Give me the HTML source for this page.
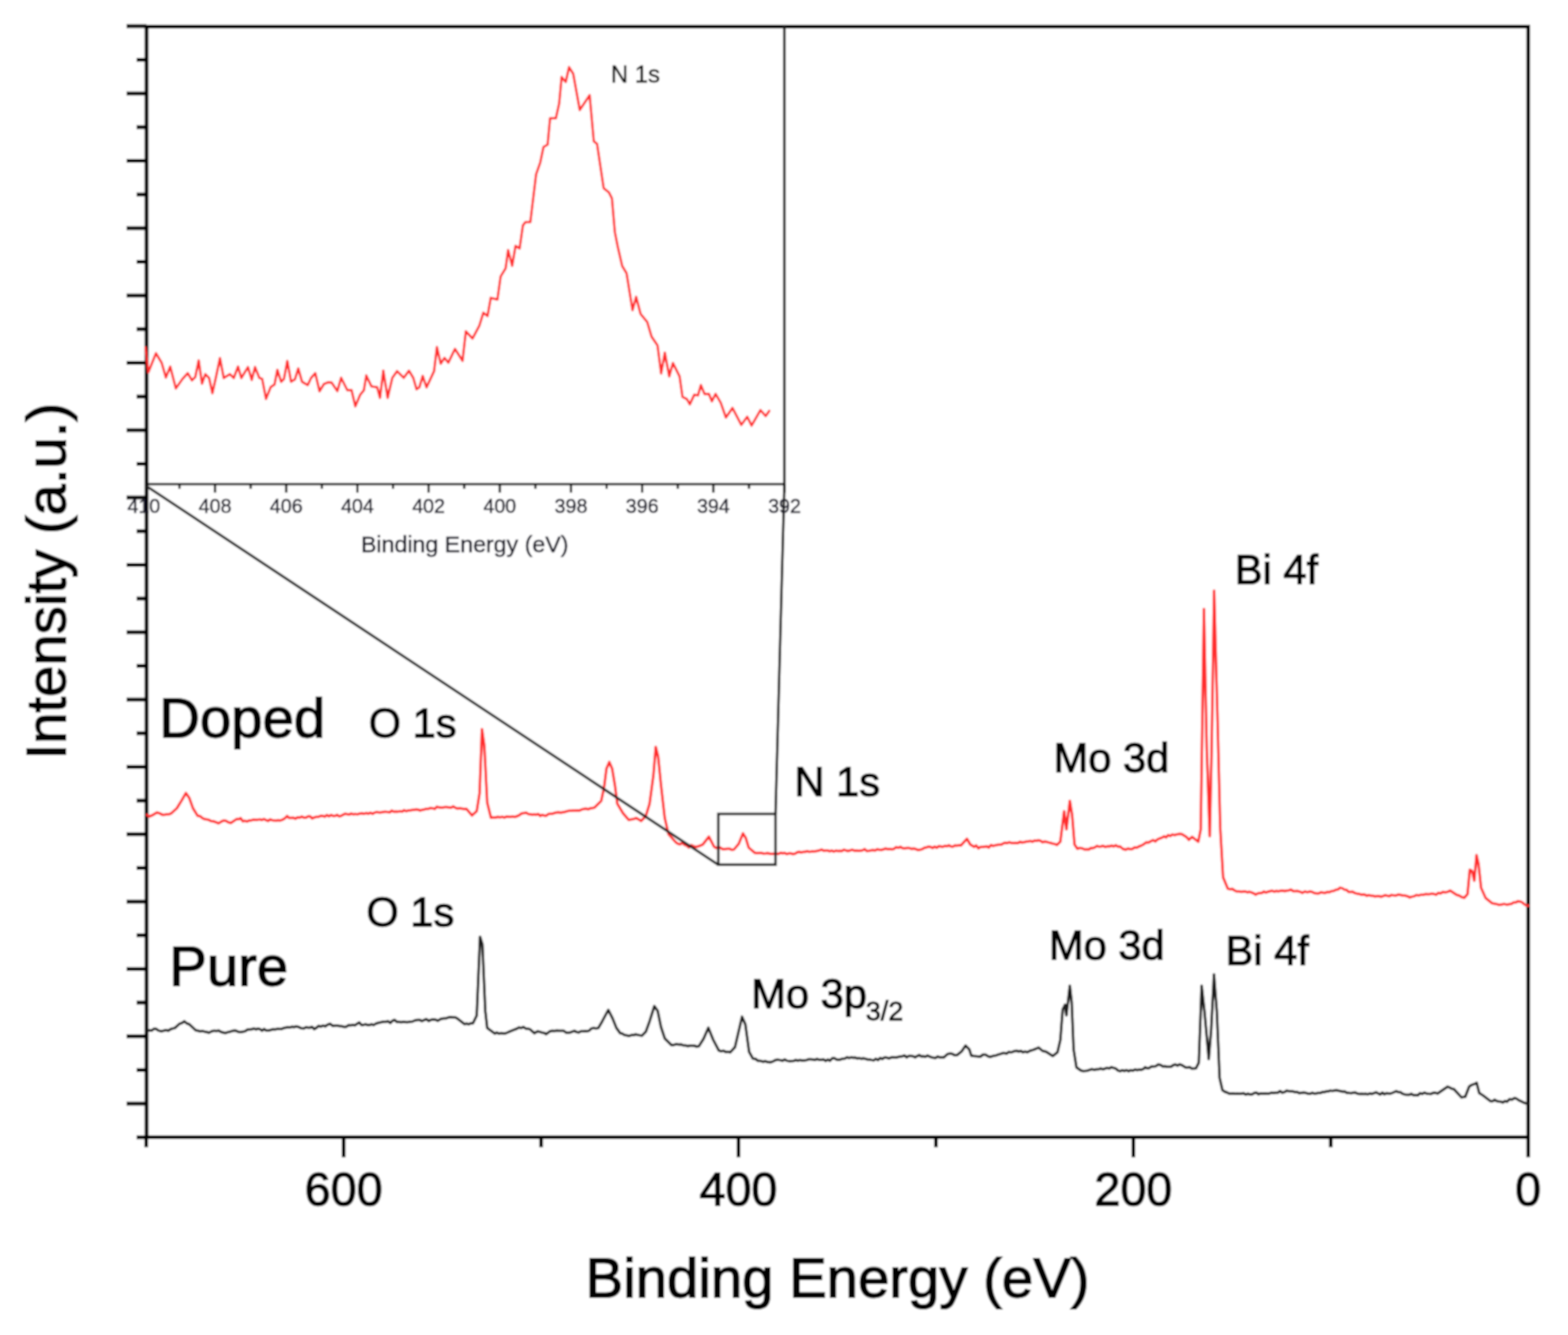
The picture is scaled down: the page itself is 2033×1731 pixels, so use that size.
<!DOCTYPE html>
<html><head><meta charset="utf-8"><title>XPS survey spectra: Doped vs Pure</title>
<style>html,body{margin:0;padding:0;background:#fff;overflow:hidden}svg{display:block}</style>
</head><body>
<svg width="2033" height="1731" viewBox="0 0 2033 1731">
<rect width="2033" height="1731" fill="#fff"/>
<defs><filter id="soft" x="0" y="0" width="100%" height="100%"><feGaussianBlur stdDeviation="1"/></filter></defs>
<g filter="url(#soft)">
<rect width="2033" height="1731" fill="#fff"/>
<rect x="190.0" y="34.5" width="1791.4" height="1440.0" fill="none" stroke="#000" stroke-width="5" stroke-linecap="square"/>
<g stroke="#000" stroke-width="5" fill="none">
<line x1="164.0" y1="33.9" x2="190.0" y2="33.9"/>
<line x1="177.0" y1="77.6" x2="190.0" y2="77.6"/>
<line x1="164.0" y1="121.2" x2="190.0" y2="121.2"/>
<line x1="177.0" y1="164.9" x2="190.0" y2="164.9"/>
<line x1="164.0" y1="208.5" x2="190.0" y2="208.5"/>
<line x1="177.0" y1="252.2" x2="190.0" y2="252.2"/>
<line x1="164.0" y1="295.9" x2="190.0" y2="295.9"/>
<line x1="177.0" y1="339.5" x2="190.0" y2="339.5"/>
<line x1="164.0" y1="383.2" x2="190.0" y2="383.2"/>
<line x1="177.0" y1="426.8" x2="190.0" y2="426.8"/>
<line x1="164.0" y1="470.5" x2="190.0" y2="470.5"/>
<line x1="177.0" y1="514.2" x2="190.0" y2="514.2"/>
<line x1="164.0" y1="557.8" x2="190.0" y2="557.8"/>
<line x1="177.0" y1="601.5" x2="190.0" y2="601.5"/>
<line x1="164.0" y1="645.1" x2="190.0" y2="645.1"/>
<line x1="177.0" y1="688.8" x2="190.0" y2="688.8"/>
<line x1="164.0" y1="732.5" x2="190.0" y2="732.5"/>
<line x1="177.0" y1="776.1" x2="190.0" y2="776.1"/>
<line x1="164.0" y1="819.8" x2="190.0" y2="819.8"/>
<line x1="177.0" y1="863.4" x2="190.0" y2="863.4"/>
<line x1="164.0" y1="907.1" x2="190.0" y2="907.1"/>
<line x1="177.0" y1="950.8" x2="190.0" y2="950.8"/>
<line x1="164.0" y1="994.4" x2="190.0" y2="994.4"/>
<line x1="177.0" y1="1038.1" x2="190.0" y2="1038.1"/>
<line x1="164.0" y1="1081.7" x2="190.0" y2="1081.7"/>
<line x1="177.0" y1="1125.4" x2="190.0" y2="1125.4"/>
<line x1="164.0" y1="1169.1" x2="190.0" y2="1169.1"/>
<line x1="177.0" y1="1212.7" x2="190.0" y2="1212.7"/>
<line x1="164.0" y1="1256.4" x2="190.0" y2="1256.4"/>
<line x1="177.0" y1="1300.0" x2="190.0" y2="1300.0"/>
<line x1="164.0" y1="1343.7" x2="190.0" y2="1343.7"/>
<line x1="177.0" y1="1387.4" x2="190.0" y2="1387.4"/>
<line x1="164.0" y1="1431.0" x2="190.0" y2="1431.0"/>
<line x1="177.0" y1="1474.7" x2="190.0" y2="1474.7"/>
<line x1="1981.4" y1="1474.5" x2="1981.4" y2="1500.5"/>
<line x1="1725.4" y1="1474.5" x2="1725.4" y2="1487.5"/>
<line x1="1469.5" y1="1474.5" x2="1469.5" y2="1500.5"/>
<line x1="1213.5" y1="1474.5" x2="1213.5" y2="1487.5"/>
<line x1="957.5" y1="1474.5" x2="957.5" y2="1500.5"/>
<line x1="701.6" y1="1474.5" x2="701.6" y2="1487.5"/>
<line x1="445.6" y1="1474.5" x2="445.6" y2="1500.5"/>
<line x1="189.6" y1="1474.5" x2="189.6" y2="1487.5"/>
</g>
<polyline points="191.1,1336.6 193.9,1336.0 196.6,1336.3 199.4,1334.0 202.2,1334.1 205.9,1336.4 209.6,1337.2 212.5,1336.3 215.3,1335.6 218.2,1336.5 221.1,1334.5 223.9,1333.6 226.8,1332.9 233.0,1327.3 236.1,1326.3 239.1,1324.3 242.2,1327.0 245.3,1328.0 253.9,1336.0 256.8,1336.5 259.6,1337.4 262.5,1336.8 265.4,1337.7 268.2,1338.2 271.1,1339.0 274.4,1337.3 277.6,1336.4 280.9,1336.8 283.7,1336.3 286.4,1338.0 289.2,1338.8 292.0,1339.6 295.3,1338.4 298.5,1337.7 301.8,1336.6 305.1,1336.2 308.4,1337.7 311.7,1338.4 314.8,1337.7 317.9,1337.1 320.9,1335.0 324.0,1334.7 326.6,1334.6 329.2,1333.5 331.8,1334.8 334.4,1333.7 337.1,1334.4 339.7,1336.5 342.3,1334.2 344.9,1336.0 347.8,1336.2 350.8,1335.5 353.7,1334.6 356.7,1334.8 359.6,1334.1 362.3,1334.2 364.9,1334.3 367.6,1333.0 370.3,1332.5 372.9,1332.1 375.6,1332.3 378.4,1331.3 381.1,1331.8 383.9,1331.0 386.7,1331.4 390.4,1333.3 394.0,1333.5 396.7,1332.0 399.3,1332.5 402.0,1332.5 404.7,1331.5 407.3,1334.4 410.0,1332.9 413.0,1330.2 415.9,1331.0 418.9,1329.9 421.8,1330.7 424.8,1328.6 428.1,1327.5 431.3,1330.2 434.6,1329.8 437.5,1329.7 440.3,1330.6 443.1,1330.6 446.0,1331.6 448.9,1331.4 451.7,1329.3 454.6,1329.4 457.5,1329.0 460.3,1329.4 463.2,1327.3 465.9,1325.8 468.5,1329.0 471.2,1328.9 473.9,1328.1 476.5,1329.0 479.2,1329.1 481.8,1328.1 484.5,1329.1 487.1,1327.4 489.7,1326.5 492.3,1325.9 495.0,1325.3 497.6,1324.8 500.4,1324.7 503.2,1324.2 506.0,1326.5 508.8,1323.6 511.6,1322.4 514.4,1325.0 517.2,1325.1 520.0,1325.5 522.8,1325.1 525.6,1325.2 528.4,1325.4 531.7,1324.8 534.9,1324.5 538.2,1323.0 541.1,1322.5 544.1,1322.4 547.0,1324.0 549.9,1322.7 552.8,1321.4 555.8,1323.8 558.7,1322.4 561.6,1321.7 564.7,1322.2 567.7,1323.6 571.4,1321.2 575.1,1320.5 578.2,1320.4 581.2,1319.3 584.3,1318.8 587.4,1319.3 590.5,1319.2 593.6,1321.1 602.2,1327.9 605.0,1327.2 607.7,1328.1 610.5,1326.7 613.2,1326.7 618.1,1316.8 622.4,1214.8 625.5,1224.6 629.2,1310.7 631.7,1332.8 641.5,1340.2 644.2,1338.9 646.8,1340.3 649.5,1339.6 652.2,1340.0 654.8,1340.1 657.5,1339.0 660.6,1337.6 663.6,1336.4 666.7,1335.2 669.8,1334.0 672.8,1332.3 675.7,1332.9 678.7,1331.6 681.6,1333.7 684.4,1333.8 687.3,1334.7 692.8,1339.6 697.1,1337.2 699.9,1337.9 702.7,1338.9 705.4,1339.4 708.2,1340.9 713.1,1337.2 716.1,1336.5 719.0,1336.7 722.0,1336.2 724.9,1336.4 727.9,1336.6 731.0,1336.6 734.0,1339.0 736.7,1339.1 739.4,1338.7 742.1,1337.6 744.8,1336.6 747.5,1338.1 750.3,1338.7 753.0,1337.2 755.7,1337.2 758.4,1337.0 761.1,1337.2 764.0,1336.3 766.8,1333.6 769.7,1332.9 772.8,1333.6 775.8,1332.9 780.8,1324.3 788.7,1309.5 794.3,1320.6 799.2,1332.9 804.1,1339.6 806.9,1340.3 809.7,1342.1 812.4,1342.4 815.2,1343.3 818.9,1342.1 821.6,1342.0 824.3,1341.2 827.0,1341.9 829.7,1342.4 832.4,1342.7 837.3,1337.8 842.2,1324.3 848.4,1304.6 852.7,1310.7 857.0,1331.6 861.9,1346.4 870.5,1355.0 873.6,1354.9 876.7,1353.8 879.8,1354.4 882.9,1354.2 885.9,1355.5 889.0,1355.6 891.9,1356.5 894.7,1355.8 897.5,1355.8 900.4,1356.0 903.2,1357.0 906.1,1356.6 912.3,1346.7 918.4,1332.6 924.6,1348.0 932.0,1362.1 934.9,1363.0 937.9,1362.4 940.8,1363.9 943.8,1363.7 946.7,1364.6 952.9,1357.8 957.8,1336.9 962.1,1318.4 966.4,1328.3 971.3,1363.9 976.2,1372.6 979.5,1373.0 982.8,1375.5 986.1,1375.6 989.2,1376.7 992.2,1376.0 995.3,1377.1 998.4,1377.5 1002.1,1376.3 1005.8,1374.4 1008.7,1374.1 1011.6,1374.6 1014.5,1375.4 1017.4,1373.7 1020.4,1375.4 1023.3,1375.9 1026.2,1375.8 1029.1,1375.6 1031.8,1374.4 1034.6,1375.4 1037.3,1374.4 1040.0,1375.2 1042.8,1375.1 1045.5,1374.6 1048.2,1373.6 1051.0,1373.6 1053.7,1373.8 1056.5,1374.4 1059.3,1373.1 1062.1,1374.2 1064.9,1374.2 1067.7,1373.6 1070.5,1375.6 1073.3,1373.9 1076.1,1375.4 1078.9,1372.3 1081.7,1372.1 1084.5,1373.8 1087.2,1374.3 1089.9,1373.7 1092.7,1372.7 1095.4,1372.6 1098.1,1371.0 1100.8,1371.7 1103.6,1371.1 1106.3,1371.4 1109.0,1371.3 1111.6,1372.4 1114.2,1372.1 1116.9,1372.7 1119.5,1372.3 1122.1,1372.9 1124.8,1373.7 1127.4,1373.8 1130.0,1374.4 1132.8,1374.9 1135.6,1372.9 1138.4,1374.5 1141.2,1371.9 1144.0,1373.0 1146.8,1371.2 1149.6,1371.3 1152.6,1372.4 1155.6,1371.1 1158.6,1371.1 1161.6,1371.2 1164.6,1370.5 1167.3,1369.9 1170.1,1369.5 1172.8,1368.6 1175.5,1370.9 1178.3,1369.3 1181.0,1369.3 1183.7,1369.5 1186.5,1370.9 1189.2,1369.3 1191.8,1368.1 1194.5,1369.8 1197.1,1369.4 1199.8,1370.3 1202.4,1368.6 1205.1,1369.8 1207.7,1370.9 1210.4,1371.6 1213.0,1371.7 1215.7,1370.0 1218.3,1370.9 1221.0,1370.9 1223.6,1371.1 1228.5,1366.8 1231.6,1366.1 1234.7,1366.4 1237.7,1368.3 1240.8,1368.1 1247.0,1363.1 1251.9,1355.8 1256.8,1360.7 1259.3,1368.7 1262.2,1369.3 1265.0,1369.4 1267.9,1369.9 1271.2,1370.0 1274.4,1367.5 1277.7,1367.4 1280.5,1369.3 1283.3,1370.5 1286.1,1369.7 1288.8,1368.8 1291.6,1368.4 1294.4,1367.4 1297.1,1366.6 1299.9,1365.6 1302.5,1365.4 1305.2,1366.2 1307.8,1364.0 1310.4,1364.6 1313.0,1363.8 1315.7,1362.7 1318.3,1362.5 1321.0,1363.5 1323.7,1362.6 1326.4,1364.5 1329.1,1363.4 1331.8,1364.4 1335.5,1362.5 1339.2,1361.3 1342.9,1360.0 1346.6,1358.2 1351.5,1362.5 1356.4,1363.7 1364.9,1369.3 1371.1,1364.4 1374.8,1348.4 1377.8,1309.0 1380.9,1302.9 1382.7,1316.4 1387.1,1278.3 1389.5,1299.2 1392.0,1360.7 1395.7,1384.0 1401.8,1388.3 1404.6,1388.7 1407.4,1388.5 1410.2,1388.2 1413.1,1387.1 1415.9,1386.3 1418.7,1387.2 1421.5,1386.5 1424.3,1386.5 1427.0,1385.3 1429.8,1386.5 1432.5,1385.7 1435.3,1384.6 1438.1,1385.4 1440.8,1383.8 1443.6,1384.6 1446.5,1385.4 1449.3,1387.8 1452.2,1389.0 1455.0,1387.7 1457.8,1388.7 1460.5,1387.5 1463.3,1388.9 1466.1,1387.6 1468.9,1388.2 1471.6,1386.7 1474.4,1387.7 1477.0,1386.8 1479.6,1387.2 1482.2,1386.2 1484.8,1383.9 1487.5,1385.3 1490.1,1384.7 1492.7,1383.1 1495.3,1382.8 1498.3,1382.6 1501.4,1380.3 1504.5,1380.8 1507.6,1382.8 1510.3,1382.5 1513.1,1383.2 1515.8,1383.2 1518.5,1383.0 1521.3,1381.0 1524.0,1380.3 1526.7,1381.7 1529.5,1380.1 1532.2,1381.0 1537.1,1384.0 1539.8,1384.2 1542.5,1383.6 1545.2,1385.6 1547.9,1385.6 1550.6,1385.3 1554.3,1377.9 1558.0,1278.3 1561.7,1311.5 1567.2,1373.0 1570.3,1336.1 1574.0,1263.5 1577.7,1311.5 1581.3,1397.6 1585.0,1413.6 1587.9,1415.5 1590.7,1416.5 1593.6,1417.9 1596.3,1417.9 1598.9,1417.7 1601.6,1418.2 1604.3,1418.1 1606.9,1418.2 1609.6,1417.9 1612.4,1417.6 1615.1,1419.3 1617.9,1418.1 1620.6,1419.0 1623.4,1418.9 1626.2,1417.3 1628.9,1416.7 1631.7,1418.9 1634.5,1417.7 1637.2,1418.0 1640.0,1417.8 1642.7,1418.1 1645.5,1418.0 1648.3,1416.8 1651.2,1417.3 1654.0,1416.7 1656.8,1416.7 1659.7,1414.7 1662.5,1416.8 1665.3,1416.1 1668.1,1414.2 1671.0,1414.7 1673.8,1414.9 1676.6,1415.3 1679.3,1416.1 1682.1,1416.1 1684.8,1417.5 1687.6,1416.9 1690.4,1416.5 1693.1,1417.1 1695.9,1418.0 1698.5,1418.3 1701.2,1417.0 1703.8,1417.9 1706.4,1417.8 1709.0,1417.2 1711.7,1417.3 1714.3,1416.1 1716.9,1416.0 1719.5,1415.3 1722.2,1415.1 1724.8,1414.1 1727.4,1414.6 1730.0,1414.0 1732.7,1413.5 1735.3,1414.3 1738.0,1414.8 1740.8,1415.5 1743.5,1415.3 1746.2,1417.0 1749.0,1417.1 1751.7,1417.6 1754.4,1416.7 1757.2,1416.5 1759.9,1418.0 1762.6,1418.4 1765.3,1418.2 1768.0,1418.5 1770.7,1418.3 1773.3,1418.9 1776.0,1417.8 1778.7,1418.5 1781.4,1417.3 1784.1,1416.3 1786.8,1417.7 1789.5,1419.1 1792.2,1416.7 1794.8,1418.8 1797.5,1417.5 1800.2,1417.7 1802.9,1418.0 1806.6,1416.5 1810.3,1414.9 1813.0,1416.1 1815.8,1416.3 1818.5,1418.2 1821.3,1419.2 1824.1,1419.4 1827.0,1419.6 1829.8,1418.3 1832.6,1419.9 1835.4,1420.0 1838.3,1420.3 1841.1,1417.4 1843.9,1418.4 1846.8,1416.7 1849.6,1418.0 1852.4,1418.3 1855.3,1418.4 1858.1,1417.1 1861.0,1416.8 1863.8,1418.0 1876.9,1409.0 1879.6,1410.2 1882.4,1411.6 1885.1,1412.2 1894.9,1422.9 1899.8,1422.0 1904.8,1409.0 1908.0,1406.8 1911.3,1405.7 1914.6,1404.1 1917.9,1417.2 1922.8,1420.4 1932.6,1427.8 1935.3,1427.7 1937.9,1426.1 1940.6,1427.6 1943.2,1428.3 1945.9,1428.4 1948.6,1429.6 1951.2,1427.6 1953.9,1428.6 1957.2,1425.3 1960.4,1425.7 1963.7,1423.7 1966.4,1424.6 1969.2,1426.6 1971.9,1427.8 1974.9,1429.4 1977.9,1430.5 1980.9,1431.1" fill="none" stroke="#1e1e1e" stroke-width="3.5" stroke-linejoin="round" stroke-linecap="round"/>
<polyline points="190.5,1056.6 193.9,1058.7 197.3,1057.2 203.4,1053.5 207.1,1054.6 210.8,1056.6 213.6,1056.4 216.4,1055.8 219.1,1055.8 221.9,1054.7 229.3,1048.0 235.4,1038.1 241.0,1028.3 245.3,1034.4 250.2,1048.0 256.3,1057.8 259.2,1058.2 262.0,1060.4 264.9,1062.1 267.8,1062.4 270.6,1063.0 273.5,1064.6 276.8,1065.0 280.1,1066.2 283.4,1067.6 286.4,1065.6 289.5,1064.0 292.8,1064.3 296.1,1066.3 299.4,1067.0 306.7,1062.1 309.4,1062.3 312.1,1060.9 314.9,1064.9 317.6,1064.3 320.3,1065.2 323.2,1063.8 326.0,1063.7 328.9,1062.7 331.6,1063.0 334.2,1062.9 336.9,1062.4 339.6,1063.2 342.2,1062.0 344.9,1063.3 347.5,1064.5 350.2,1062.5 352.8,1063.4 355.4,1063.7 358.0,1063.9 360.7,1063.6 363.3,1063.9 366.4,1062.8 369.5,1060.9 372.2,1058.1 374.9,1060.6 377.7,1060.5 380.4,1060.2 383.1,1061.6 385.8,1059.7 388.6,1060.3 391.3,1058.7 394.0,1060.3 396.7,1060.2 399.4,1058.6 402.1,1058.5 404.8,1061.3 407.5,1059.9 410.2,1059.2 412.9,1059.2 415.7,1057.8 418.4,1057.9 421.1,1058.9 423.8,1056.8 426.5,1058.4 429.2,1056.7 431.9,1058.0 434.6,1057.8 437.2,1056.6 439.8,1058.6 442.4,1057.8 445.0,1056.3 447.6,1055.1 450.3,1055.7 452.9,1056.0 455.5,1055.0 458.1,1055.8 460.7,1055.4 463.5,1055.9 466.3,1054.9 469.1,1054.5 471.9,1055.2 474.7,1054.3 477.5,1055.0 480.3,1053.9 483.1,1055.2 485.9,1053.6 488.7,1052.9 491.5,1053.6 494.2,1053.4 497.0,1052.8 499.7,1052.4 502.4,1052.9 505.2,1053.4 507.9,1051.1 510.6,1052.5 513.4,1052.3 516.1,1052.4 518.7,1051.9 521.4,1052.4 524.0,1050.5 526.6,1051.8 529.3,1050.8 531.9,1050.8 534.5,1050.3 537.2,1049.9 539.8,1049.5 542.5,1050.0 545.1,1051.0 547.7,1049.9 550.4,1049.5 553.0,1048.7 555.7,1048.7 558.3,1047.6 561.0,1048.1 563.7,1048.9 566.3,1046.1 569.0,1046.8 571.6,1047.2 574.3,1047.2 576.9,1046.4 579.5,1046.6 582.1,1046.9 584.8,1047.4 587.4,1045.6 590.3,1047.3 593.1,1048.4 596.0,1048.0 598.9,1048.4 601.7,1049.0 604.6,1048.7 612.0,1057.3 618.1,1051.7 621.8,1028.4 624.9,945.4 628.0,966.9 631.7,1040.7 636.6,1060.3 639.5,1060.1 642.5,1060.0 645.4,1059.2 648.4,1059.8 651.3,1059.1 653.9,1060.1 656.6,1058.8 659.2,1059.0 661.9,1059.2 664.5,1058.6 667.2,1059.3 669.8,1058.5 673.1,1057.2 676.3,1054.7 679.6,1054.2 682.2,1053.7 684.8,1055.4 687.4,1055.7 690.0,1056.4 692.7,1056.1 695.3,1056.4 697.9,1055.4 700.5,1057.9 703.1,1056.5 705.7,1057.6 708.3,1057.7 711.0,1055.5 713.6,1055.2 716.3,1055.2 718.9,1054.2 721.6,1053.4 724.2,1053.3 726.9,1053.7 729.7,1053.2 732.4,1052.7 735.1,1051.9 737.9,1051.3 740.6,1051.3 743.3,1050.9 746.1,1051.0 748.8,1050.8 751.6,1050.9 754.3,1049.7 757.1,1048.8 759.8,1048.5 762.6,1049.4 765.4,1048.1 768.1,1047.7 770.9,1047.1 779.5,1038.5 783.2,1021.3 786.3,996.7 790.0,988.1 793.7,996.7 797.4,1018.9 800.4,1042.2 807.8,1054.5 815.2,1063.1 818.5,1062.5 821.7,1061.9 825.0,1060.7 828.1,1062.6 831.2,1064.4 837.3,1058.2 842.2,1042.2 847.2,1005.3 850.2,968.4 853.3,980.7 857.0,1017.6 861.9,1060.7 866.8,1081.6 876.7,1092.6 879.4,1094.2 882.1,1094.7 884.8,1092.7 887.5,1095.4 890.2,1096.3 893.2,1098.8 896.1,1095.8 899.1,1097.2 902.0,1098.1 905.0,1097.6 908.0,1096.3 911.1,1095.1 919.1,1084.9 925.8,1097.8 928.6,1099.6 931.3,1098.4 934.1,1099.2 936.9,1100.9 939.8,1100.9 942.8,1100.6 945.7,1100.4 948.7,1101.8 951.6,1101.5 957.8,1094.1 963.3,1080.6 967.0,1086.7 970.7,1099.0 978.7,1105.8 981.5,1106.2 984.3,1106.1 987.1,1106.0 990.0,1106.7 992.8,1106.6 995.6,1106.3 998.4,1107.0 1001.1,1107.3 1003.9,1107.1 1006.6,1106.9 1009.3,1107.3 1012.1,1105.8 1014.8,1106.5 1017.5,1106.1 1020.3,1107.5 1023.0,1106.4 1025.6,1106.6 1028.3,1107.5 1030.9,1106.9 1033.5,1105.2 1036.2,1104.5 1038.8,1105.4 1041.5,1104.6 1044.1,1104.5 1046.7,1103.6 1049.4,1104.6 1052.0,1104.1 1054.6,1104.0 1057.3,1103.8 1059.9,1103.3 1062.5,1102.6 1065.2,1101.5 1067.8,1103.0 1070.4,1102.7 1073.1,1102.7 1075.7,1103.8 1078.3,1102.9 1081.0,1104.1 1083.6,1103.1 1086.3,1103.4 1088.9,1103.2 1091.5,1103.4 1094.2,1101.8 1096.8,1102.7 1099.5,1103.5 1102.2,1102.7 1104.9,1101.8 1107.6,1102.9 1110.3,1102.7 1113.0,1103.3 1115.7,1102.9 1118.4,1102.5 1121.1,1101.0 1123.8,1103.4 1126.5,1103.2 1129.2,1102.6 1131.9,1102.3 1134.6,1102.8 1137.3,1101.2 1140.0,1101.8 1142.7,1102.0 1145.5,1101.3 1148.2,1100.2 1150.9,1101.0 1153.7,1100.7 1156.4,1101.4 1159.1,1100.6 1161.9,1098.4 1164.6,1099.3 1167.4,1098.1 1170.3,1099.7 1173.1,1099.9 1175.9,1099.6 1178.8,1099.5 1181.6,1100.7 1184.4,1100.2 1187.2,1100.8 1190.1,1102.2 1192.9,1101.8 1195.8,1100.9 1198.6,1099.2 1201.5,1098.7 1204.1,1097.7 1206.7,1098.3 1209.3,1099.6 1211.9,1097.7 1214.5,1099.3 1217.1,1097.2 1219.7,1097.5 1222.3,1098.0 1225.0,1096.8 1227.6,1097.3 1230.2,1096.1 1232.8,1097.4 1235.4,1097.7 1238.0,1096.2 1240.6,1096.6 1243.2,1096.0 1245.8,1096.2 1253.7,1087.6 1258.0,1095.0 1263.0,1098.1 1265.7,1096.3 1268.5,1099.9 1271.2,1098.2 1273.9,1098.2 1276.7,1097.7 1279.4,1097.4 1282.1,1098.9 1284.9,1095.7 1287.6,1096.9 1290.2,1096.1 1292.9,1095.5 1295.5,1095.2 1298.1,1095.3 1300.7,1093.7 1303.4,1092.7 1306.0,1093.2 1308.7,1092.1 1311.5,1093.1 1314.2,1093.3 1316.9,1093.0 1319.7,1093.3 1322.4,1091.5 1325.1,1092.5 1327.9,1092.0 1330.6,1091.3 1333.2,1091.0 1335.9,1090.4 1338.5,1091.4 1341.1,1090.1 1343.7,1090.2 1346.4,1089.5 1349.0,1090.1 1351.6,1092.0 1354.3,1091.3 1356.9,1091.6 1359.6,1092.4 1362.2,1093.0 1364.9,1093.9 1367.5,1094.4 1370.5,1095.6 1374.8,1091.3 1379.7,1052.0 1382.7,1075.3 1387.1,1038.4 1390.1,1056.9 1393.2,1095.0 1396.9,1100.5 1400.0,1099.4 1403.1,1100.0 1406.1,1101.4 1409.2,1101.2 1411.8,1101.5 1414.5,1099.4 1417.1,1099.7 1419.7,1098.7 1422.3,1096.8 1425.0,1097.8 1427.6,1097.5 1430.3,1096.7 1433.1,1098.2 1435.8,1097.3 1438.5,1097.5 1441.3,1096.4 1444.0,1097.6 1446.7,1096.0 1449.5,1097.7 1452.2,1097.5 1455.9,1100.7 1459.6,1101.8 1462.5,1100.2 1465.3,1101.0 1468.2,1100.7 1471.1,1098.8 1473.9,1099.1 1476.8,1097.5 1479.9,1096.3 1482.9,1094.7 1486.0,1092.3 1489.1,1092.6 1492.1,1090.7 1495.0,1089.2 1498.0,1091.0 1500.9,1088.3 1503.9,1087.0 1506.6,1086.1 1509.2,1084.4 1511.9,1085.8 1514.6,1082.9 1517.2,1084.0 1519.9,1082.1 1523.0,1082.8 1526.1,1081.9 1529.1,1081.2 1532.2,1081.5 1538.3,1085.2 1541.4,1088.9 1545.7,1085.2 1553.6,1091.5 1556.8,1075.4 1561.0,789.7 1564.7,973.6 1568.5,1084.1 1570.9,973.6 1574.2,766.1 1578.4,923.9 1582.1,1072.9 1585.8,1137.5 1592.0,1152.4 1594.8,1152.9 1597.7,1152.5 1600.5,1154.5 1603.4,1155.8 1606.2,1155.7 1609.1,1156.4 1611.9,1156.1 1614.6,1155.9 1617.3,1157.0 1620.0,1156.3 1622.6,1157.1 1625.3,1158.3 1628.0,1160.0 1630.7,1158.4 1633.4,1158.1 1636.1,1157.8 1638.8,1156.1 1641.5,1157.3 1644.2,1156.2 1646.9,1155.5 1649.6,1155.1 1652.2,1156.1 1654.9,1155.3 1657.6,1155.8 1660.3,1154.9 1663.0,1154.7 1665.7,1155.5 1668.4,1154.7 1671.1,1154.4 1673.8,1153.5 1676.7,1155.5 1679.7,1155.4 1682.6,1155.3 1685.6,1156.3 1688.5,1157.8 1691.8,1156.0 1695.1,1156.9 1698.4,1156.0 1701.3,1156.5 1704.1,1158.0 1707.0,1158.4 1709.8,1158.6 1712.5,1157.0 1715.3,1157.4 1718.0,1157.8 1720.8,1156.5 1723.6,1156.8 1726.3,1155.5 1729.1,1155.3 1731.9,1153.7 1734.7,1153.3 1737.4,1151.1 1740.2,1151.6 1743.0,1153.4 1745.8,1153.7 1748.5,1156.4 1751.3,1156.6 1753.9,1156.3 1756.5,1157.9 1759.1,1158.7 1761.8,1158.9 1764.4,1160.0 1767.0,1159.7 1769.6,1160.1 1772.2,1161.5 1774.8,1160.6 1777.5,1161.4 1780.1,1161.4 1782.7,1162.4 1785.3,1162.1 1788.0,1162.0 1790.6,1162.7 1793.3,1161.9 1796.1,1160.7 1798.8,1161.6 1801.5,1161.9 1804.3,1160.4 1807.0,1160.9 1809.7,1161.3 1812.5,1160.0 1815.2,1160.3 1818.5,1161.0 1821.7,1161.2 1825.0,1162.1 1827.9,1163.7 1830.8,1162.6 1833.6,1162.1 1836.5,1160.4 1839.4,1161.1 1842.3,1160.2 1845.1,1160.3 1848.0,1159.3 1850.9,1159.4 1853.7,1159.4 1856.5,1158.6 1859.2,1159.2 1862.0,1160.2 1864.8,1157.7 1867.6,1158.6 1870.8,1156.6 1873.9,1157.1 1877.0,1156.4 1880.2,1154.8 1888.5,1160.3 1891.9,1161.2 1895.2,1163.2 1898.6,1164.0 1902.7,1159.4 1905.7,1127.7 1908.6,1129.3 1911.5,1141.9 1914.4,1108.8 1917.0,1120.1 1920.3,1151.1 1926.2,1164.4 1934.5,1171.1 1937.7,1171.8 1940.8,1172.4 1943.9,1173.4 1947.1,1172.8 1950.2,1172.1 1953.3,1172.9 1956.5,1172.4 1959.6,1172.0 1962.4,1170.3 1965.2,1170.1 1968.0,1168.6 1970.8,1168.9 1973.5,1170.0 1976.3,1172.4 1978.9,1174.1 1981.5,1174.2" fill="none" stroke="#ff2e2e" stroke-width="3.5" stroke-linejoin="round" stroke-linecap="round"/>
<polyline points="188.7,450.7 192.4,482.7 202.2,458.1 209.6,470.4 215.1,489.5 220.7,475.3 228.0,503.6 236.6,491.3 243.4,483.9 248.9,493.2 253.2,488.9 257.6,467.3 261.9,497.5 266.2,485.2 271.1,490.1 275.4,509.8 280.3,487.6 285.2,464.3 290.1,490.1 298.1,485.2 303.1,490.1 308.6,475.3 312.9,490.1 321.5,476.0 326.4,492.6 330.7,476.0 336.3,490.1 339.9,491.3 344.9,517.1 351.0,501.8 355.9,498.7 359.6,479.6 364.5,495.0 368.2,491.3 372.5,468.0 377.4,495.0 382.4,491.9 386.7,477.8 391.6,495.0 399.0,499.3 403.3,490.1 408.8,483.9 414.3,507.3 419.9,498.1 426.0,495.6 430.0,496.1 437.4,507.1 442.3,489.9 450.3,505.9 455.8,505.9 460.7,526.8 466.9,512.1 471.8,505.9 474.9,486.9 481.6,501.0 489.0,502.2 492.7,515.8 497.0,480.7 502.6,515.8 508.7,489.9 514.9,481.3 523.5,489.9 530.2,480.7 535.8,489.9 540.1,504.7 543.7,502.2 548.1,487.5 553.0,502.2 562.8,481.3 566.5,450.0 571.4,471.5 576.3,464.1 581.3,470.3 589.9,452.4 599.7,467.8 604.0,429.7 612.6,438.9 621.4,422.6 626.7,405.5 632.1,409.7 636.3,386.2 644.9,388.4 649.1,358.5 655.6,347.8 658.8,324.3 664.1,344.6 668.4,318.9 673.7,322.1 678.0,292.2 681.2,288.0 687.6,288.0 695.1,226.0 700.4,211.0 704.7,190.7 710.0,187.5 713.2,153.3 720.7,153.3 725.0,134.1 728.2,99.9 733.5,106.3 737.8,87.1 743.2,95.6 751.7,142.6 764.5,123.4 769.9,183.2 774.1,186.5 782.7,244.1 789.5,249.5 793.4,257.2 797.2,301.0 801.0,320.1 806.7,344.9 812.4,354.4 820.1,402.1 824.8,385.0 830.5,406.9 839.1,417.4 844.8,436.5 852.5,447.9 857.2,484.1 862.0,457.4 867.7,488.0 872.5,470.8 881.1,488.0 884.9,514.6 890.6,517.5 894.4,524.2 900.2,511.8 904.9,512.7 908.7,499.4 913.5,510.8 919.2,510.8 923.0,520.4 927.8,510.8 934.5,522.3 941.2,541.4 949.7,529.0 961.2,550.9 968.8,540.4 974.5,551.8 986.0,531.8 992.7,539.5 997.4,532.8" fill="none" stroke="#ff2e2e" stroke-width="3.2" stroke-linejoin="round" stroke-linecap="round"/>
<g fill="none" stroke="#222" stroke-width="3.4">
<rect x="931.4" y="1055.4" width="74.1" height="65.8"/>
<line x1="190" y1="630.3" x2="931" y2="1121.2"/>
<polyline points="1017,34 1017,628 1005.5,1055.4"/>
</g>
<g stroke="#111" stroke-width="3" fill="none">
<line x1="190" y1="627.7" x2="1017" y2="627.7"/>
<line x1="232.7" y1="627.7" x2="232.7" y2="633.7"/>
<line x1="278.8" y1="627.7" x2="278.8" y2="638.7"/>
<line x1="325.0" y1="627.7" x2="325.0" y2="633.7"/>
<line x1="371.1" y1="627.7" x2="371.1" y2="638.7"/>
<line x1="417.3" y1="627.7" x2="417.3" y2="633.7"/>
<line x1="463.4" y1="627.7" x2="463.4" y2="638.7"/>
<line x1="509.6" y1="627.7" x2="509.6" y2="633.7"/>
<line x1="555.7" y1="627.7" x2="555.7" y2="638.7"/>
<line x1="601.9" y1="627.7" x2="601.9" y2="633.7"/>
<line x1="648.0" y1="627.7" x2="648.0" y2="638.7"/>
<line x1="694.2" y1="627.7" x2="694.2" y2="633.7"/>
<line x1="740.3" y1="627.7" x2="740.3" y2="638.7"/>
<line x1="786.5" y1="627.7" x2="786.5" y2="633.7"/>
<line x1="832.6" y1="627.7" x2="832.6" y2="638.7"/>
<line x1="878.8" y1="627.7" x2="878.8" y2="633.7"/>
<line x1="924.9" y1="627.7" x2="924.9" y2="638.7"/>
<line x1="971.1" y1="627.7" x2="971.1" y2="633.7"/>
<line x1="1017.2" y1="627.7" x2="1017.2" y2="638.7"/>
</g>
<g font-family="'Liberation Sans', Arial, Helvetica, sans-serif" font-size="25.5" fill="#1c1c2a" stroke="#1c1c2a" stroke-width="0.6" text-anchor="middle">
<text x="186.5" y="664.6">410</text>
<text x="278.8" y="664.6">408</text>
<text x="371.1" y="664.6">406</text>
<text x="463.4" y="664.6">404</text>
<text x="555.7" y="664.6">402</text>
<text x="648.0" y="664.6">400</text>
<text x="740.3" y="664.6">398</text>
<text x="832.6" y="664.6">396</text>
<text x="924.9" y="664.6">394</text>
<text x="1017.2" y="664.6">392</text>
</g>
<text x="468" y="715.6" font-family="'Liberation Sans', Arial, Helvetica, sans-serif" font-size="29" fill="#1c1c2a" stroke="#1c1c2a" stroke-width="0.6" textLength="269" lengthAdjust="spacingAndGlyphs">Binding Energy (eV)</text>
<text x="792" y="107.3" font-family="'Liberation Sans', Arial, Helvetica, sans-serif" font-size="31" fill="#111" stroke="#111" stroke-width="0.6">N 1s</text>
<g font-family="'Liberation Sans', Arial, Helvetica, sans-serif" font-size="60.5" fill="#000" stroke="#000" stroke-width="1.6" text-anchor="middle">
<text x="445.6" y="1563.2">600</text>
<text x="957.5" y="1563.2">400</text>
<text x="1469.5" y="1563.2">200</text>
<text x="1981.4" y="1563.2">0</text>
</g>
<text x="1086" y="1682.3" font-family="'Liberation Sans', Arial, Helvetica, sans-serif" font-size="73" fill="#000" stroke="#000" stroke-width="1.8" text-anchor="middle">Binding Energy (eV)</text>
<text transform="translate(85.3,753.6) rotate(-90)" font-family="'Liberation Sans', Arial, Helvetica, sans-serif" font-size="73" fill="#000" stroke="#000" stroke-width="1.8" text-anchor="middle">Intensity (a.u.)</text>
<text x="206.5" y="956.4" font-family="'Liberation Sans', Arial, Helvetica, sans-serif" font-size="73" fill="#000" stroke="#000" stroke-width="1.8">Doped</text>
<text x="219.5" y="1278.4" font-family="'Liberation Sans', Arial, Helvetica, sans-serif" font-size="73" fill="#000" stroke="#000" stroke-width="1.8">Pure</text>
<text x="478" y="956.4" font-family="'Liberation Sans', Arial, Helvetica, sans-serif" font-size="54" fill="#000" stroke="#000" stroke-width="1.5">O 1s</text>
<text x="475" y="1200.5" font-family="'Liberation Sans', Arial, Helvetica, sans-serif" font-size="54" fill="#000" stroke="#000" stroke-width="1.5">O 1s</text>
<text x="1030" y="1032" font-family="'Liberation Sans', Arial, Helvetica, sans-serif" font-size="54" fill="#000" stroke="#000" stroke-width="1.5">N 1s</text>
<text x="1366" y="1000.9" font-family="'Liberation Sans', Arial, Helvetica, sans-serif" font-size="54" fill="#000" stroke="#000" stroke-width="1.5">Mo 3d</text>
<text x="1601" y="756.8" font-family="'Liberation Sans', Arial, Helvetica, sans-serif" font-size="54" fill="#000" stroke="#000" stroke-width="1.5">Bi 4f</text>
<text x="1360" y="1244.1" font-family="'Liberation Sans', Arial, Helvetica, sans-serif" font-size="54" fill="#000" stroke="#000" stroke-width="1.5">Mo 3d</text>
<text x="1589" y="1250.6" font-family="'Liberation Sans', Arial, Helvetica, sans-serif" font-size="54" fill="#000" stroke="#000" stroke-width="1.5">Bi 4f</text>
<text x="974" y="1306.9" font-family="'Liberation Sans', Arial, Helvetica, sans-serif" font-size="54" fill="#000" stroke="#000" stroke-width="1.5">Mo 3p<tspan font-size="35" dx="-1.5" dy="16" stroke-width="1.1">3/2</tspan></text>
</g>
</svg>
</body></html>
